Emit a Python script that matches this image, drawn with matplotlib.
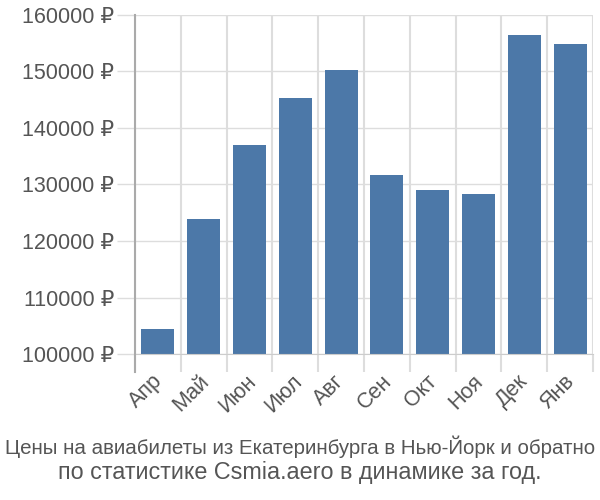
import matplotlib
matplotlib.use("Agg")
import matplotlib.pyplot as plt
from matplotlib.lines import Line2D
from matplotlib.transforms import ScaledTranslation

months = ["Апр", "Май", "Июн", "Июл", "Авг", "Сен", "Окт", "Ноя", "Дек", "Янв"]
prices = [104400, 123900, 137000, 145300, 150300, 131700, 129000, 128300, 156500, 154900]
yticks = [100000, 110000, 120000, 130000, 140000, 150000, 160000]
title_lines = ["Цены на авиабилеты из Екатеринбурга в Нью-Йорк и обратно",
               "по статистике Csmia.aero в динамике за год."]

plt.rcParams['font.family'] = ['Liberation Sans', 'DejaVu Sans']

fig = plt.figure(figsize=(6, 5), dpi=100)
ax = fig.add_axes([135/600, 1 - 354/500, (593-135)/600, (354-15)/500])

x = list(range(len(months)))
ax.bar(x, prices, width=0.72, color='#4c78a8', zorder=3)

ax.set_xlim(-0.5, len(months) - 0.5)
ax.set_ylim(100000, 160000)

ax.set_yticks(yticks)
ax.set_yticklabels([f"{v} ₽" for v in yticks], fontsize=15.5, color='#555555')
ax.tick_params(axis='y', length=13, color='#dddddd', width=1, pad=2)

ax.set_xticks(x)
ax.set_xticklabels(months, rotation=45, ha='center', fontsize=15.5, color='#555555')
ax.tick_params(axis='x', which='major', length=0, pad=12)
shift = ScaledTranslation(-12/100, 0, fig.dpi_scale_trans)
for lab in ax.get_xticklabels():
    lab.set_transform(lab.get_transform() + shift)
ax.set_xticks([i - 0.5 for i in range(len(months) + 1)], minor=True)
ax.tick_params(axis='x', which='minor', length=13, color='#dddddd', width=1.5)

ax.grid(axis='y', color='#dddddd', linewidth=1, zorder=0)
ax.grid(axis='x', which='minor', color='#dddddd', linewidth=1.5, zorder=0)

for s in ['top', 'right']:
    ax.spines[s].set_visible(False)
ax.spines['bottom'].set_color('#cccccc')
ax.spines['bottom'].set_zorder(4)
ax.spines['left'].set_visible(False)
ax.add_line(Line2D([0, 0], [-0.053, 1], transform=ax.transAxes, color='#aaaaaa',
                   linewidth=1.5, clip_on=False, zorder=5))

fig.text(0.5, 1 - 447/500, title_lines[0], ha='center', va='center', fontsize=14.8,
         color='#555555')
fig.text(0.5, 1 - 473/500, title_lines[1], ha='center', va='center', fontsize=16.8,
         color='#555555')

fig.savefig("out.png", dpi=100)
